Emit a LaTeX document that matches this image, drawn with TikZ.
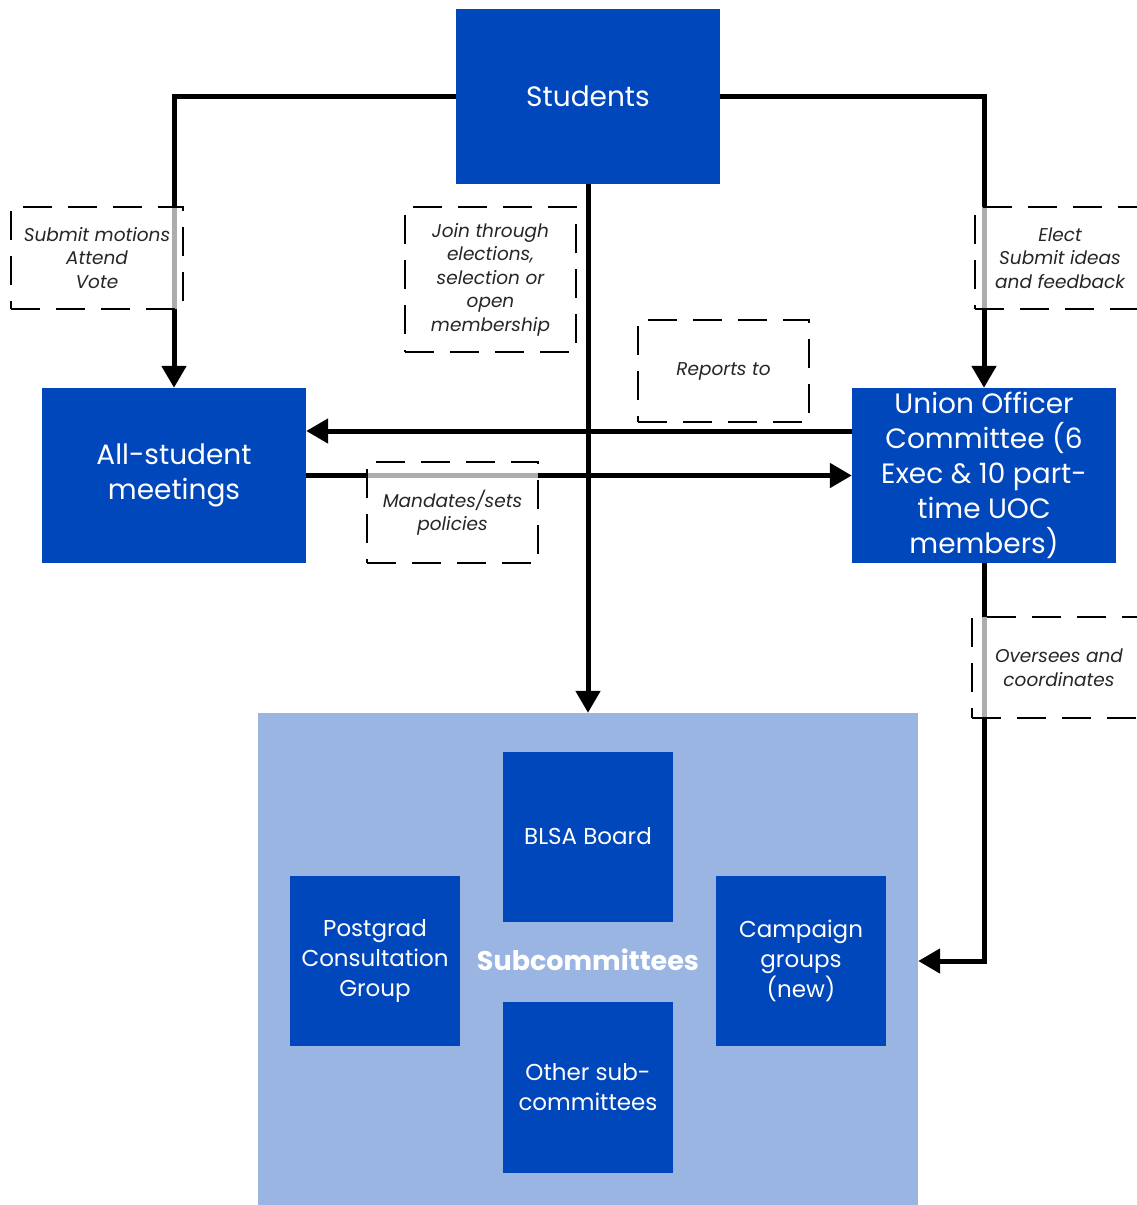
\documentclass[tikz,border=0pt]{standalone}
\usepackage{fontspec}
\setmainfont{Poppins}
\usetikzlibrary{arrows.meta}
\definecolor{bluebox}{RGB}{0,71,187}
\definecolor{panelblue}{RGB}{155,181,226}
\begin{document}
\begin{tikzpicture}[x=1pt,y=-1pt,
  bigbox/.style={rectangle,fill=bluebox,draw=none,text=white,align=center,
    minimum width=264pt,minimum height=175pt,inner sep=0pt,
    font=\fontsize{28}{35}\selectfont},
  subbox/.style={rectangle,fill=bluebox,draw=none,text=white,align=center,
    minimum width=170pt,minimum height=170pt,inner sep=0pt,
    font=\fontsize{23}{30}\selectfont},
  lbl/.style={rectangle,draw=black,line width=2.5pt,dash pattern=on 29pt off 16pt,
    fill=white,fill opacity=0.68,text opacity=1,text=black!85,align=center,
    inner sep=0pt,font=\fontsize{18.5}{23.5}\selectfont\itshape},
  conn/.style={line width=5pt,draw=black,-{Triangle[length=22pt,width=24pt]}},
  plain/.style={line width=5pt,draw=black}
]
\useasboundingbox (0,0) rectangle (1136,1205);

% boxes
\node[bigbox] (stud) at (588,96.5) {Students};
\node[bigbox] (asm) at (174,475.5) {All-student\\meetings};
\node[bigbox] (uoc) at (984,475.5) {Union Officer\\Committee (6\\Exec \& 10 part-\\time UOC\\members)};

\node[rectangle,fill=panelblue,draw=none,minimum width=660pt,minimum height=500pt,inner sep=0pt] (panel) at (588,963) {};
\node[subbox] (blsa) at (588,836.5) {BLSA Board};
\node[subbox] (pg) at (375,961) {Postgrad\\Consultation\\Group};
\node[subbox] (camp) at (801,961) {Campaign\\groups\\(new)};
\node[subbox,minimum height=171pt] (other) at (588,1087.5) {Other sub-\\committees};
\node[text=white,font=\fontsize{27}{32}\selectfont\bfseries] (subtitle) at (588,960) {Subcommittees};

% connectors
\draw[conn] (stud.west) -| (asm.north);
\draw[conn] (stud.east) -| (uoc.north);
\draw[conn] (stud.south) -- (panel.north);
\draw[conn] ([yshift=44.5pt]uoc.west) -- ([yshift=44.5pt]uoc.west -| asm.east);
\draw[conn] (asm.east) -- (asm.east -| uoc.west);
\draw[conn] (uoc.south) |- (panel.east |- camp.east);

% labels
\node[lbl,minimum width=172pt,minimum height=102pt] (l1) at (97,258) {Submit motions\\Attend\\Vote};
\node[lbl,minimum width=171pt,minimum height=145pt] (l2) at (490.5,279.5) {Join through\\elections,\\selection or\\open\\membership};
\node[lbl,minimum width=170pt,minimum height=102pt] (l3) at (1060,258) {Elect\\Submit ideas\\and feedback};
\node[lbl,minimum width=171pt,minimum height=102pt] (l4) at (723.5,371) {Reports to};
\node[lbl,minimum width=171pt,minimum height=101pt] (l5) at (452.5,512.5) {Mandates/sets\\policies};
\node[lbl,minimum width=174pt,minimum height=101pt] (l6) at (1059,667.5) {Oversees and\\coordinates};
\end{tikzpicture}
\end{document}
